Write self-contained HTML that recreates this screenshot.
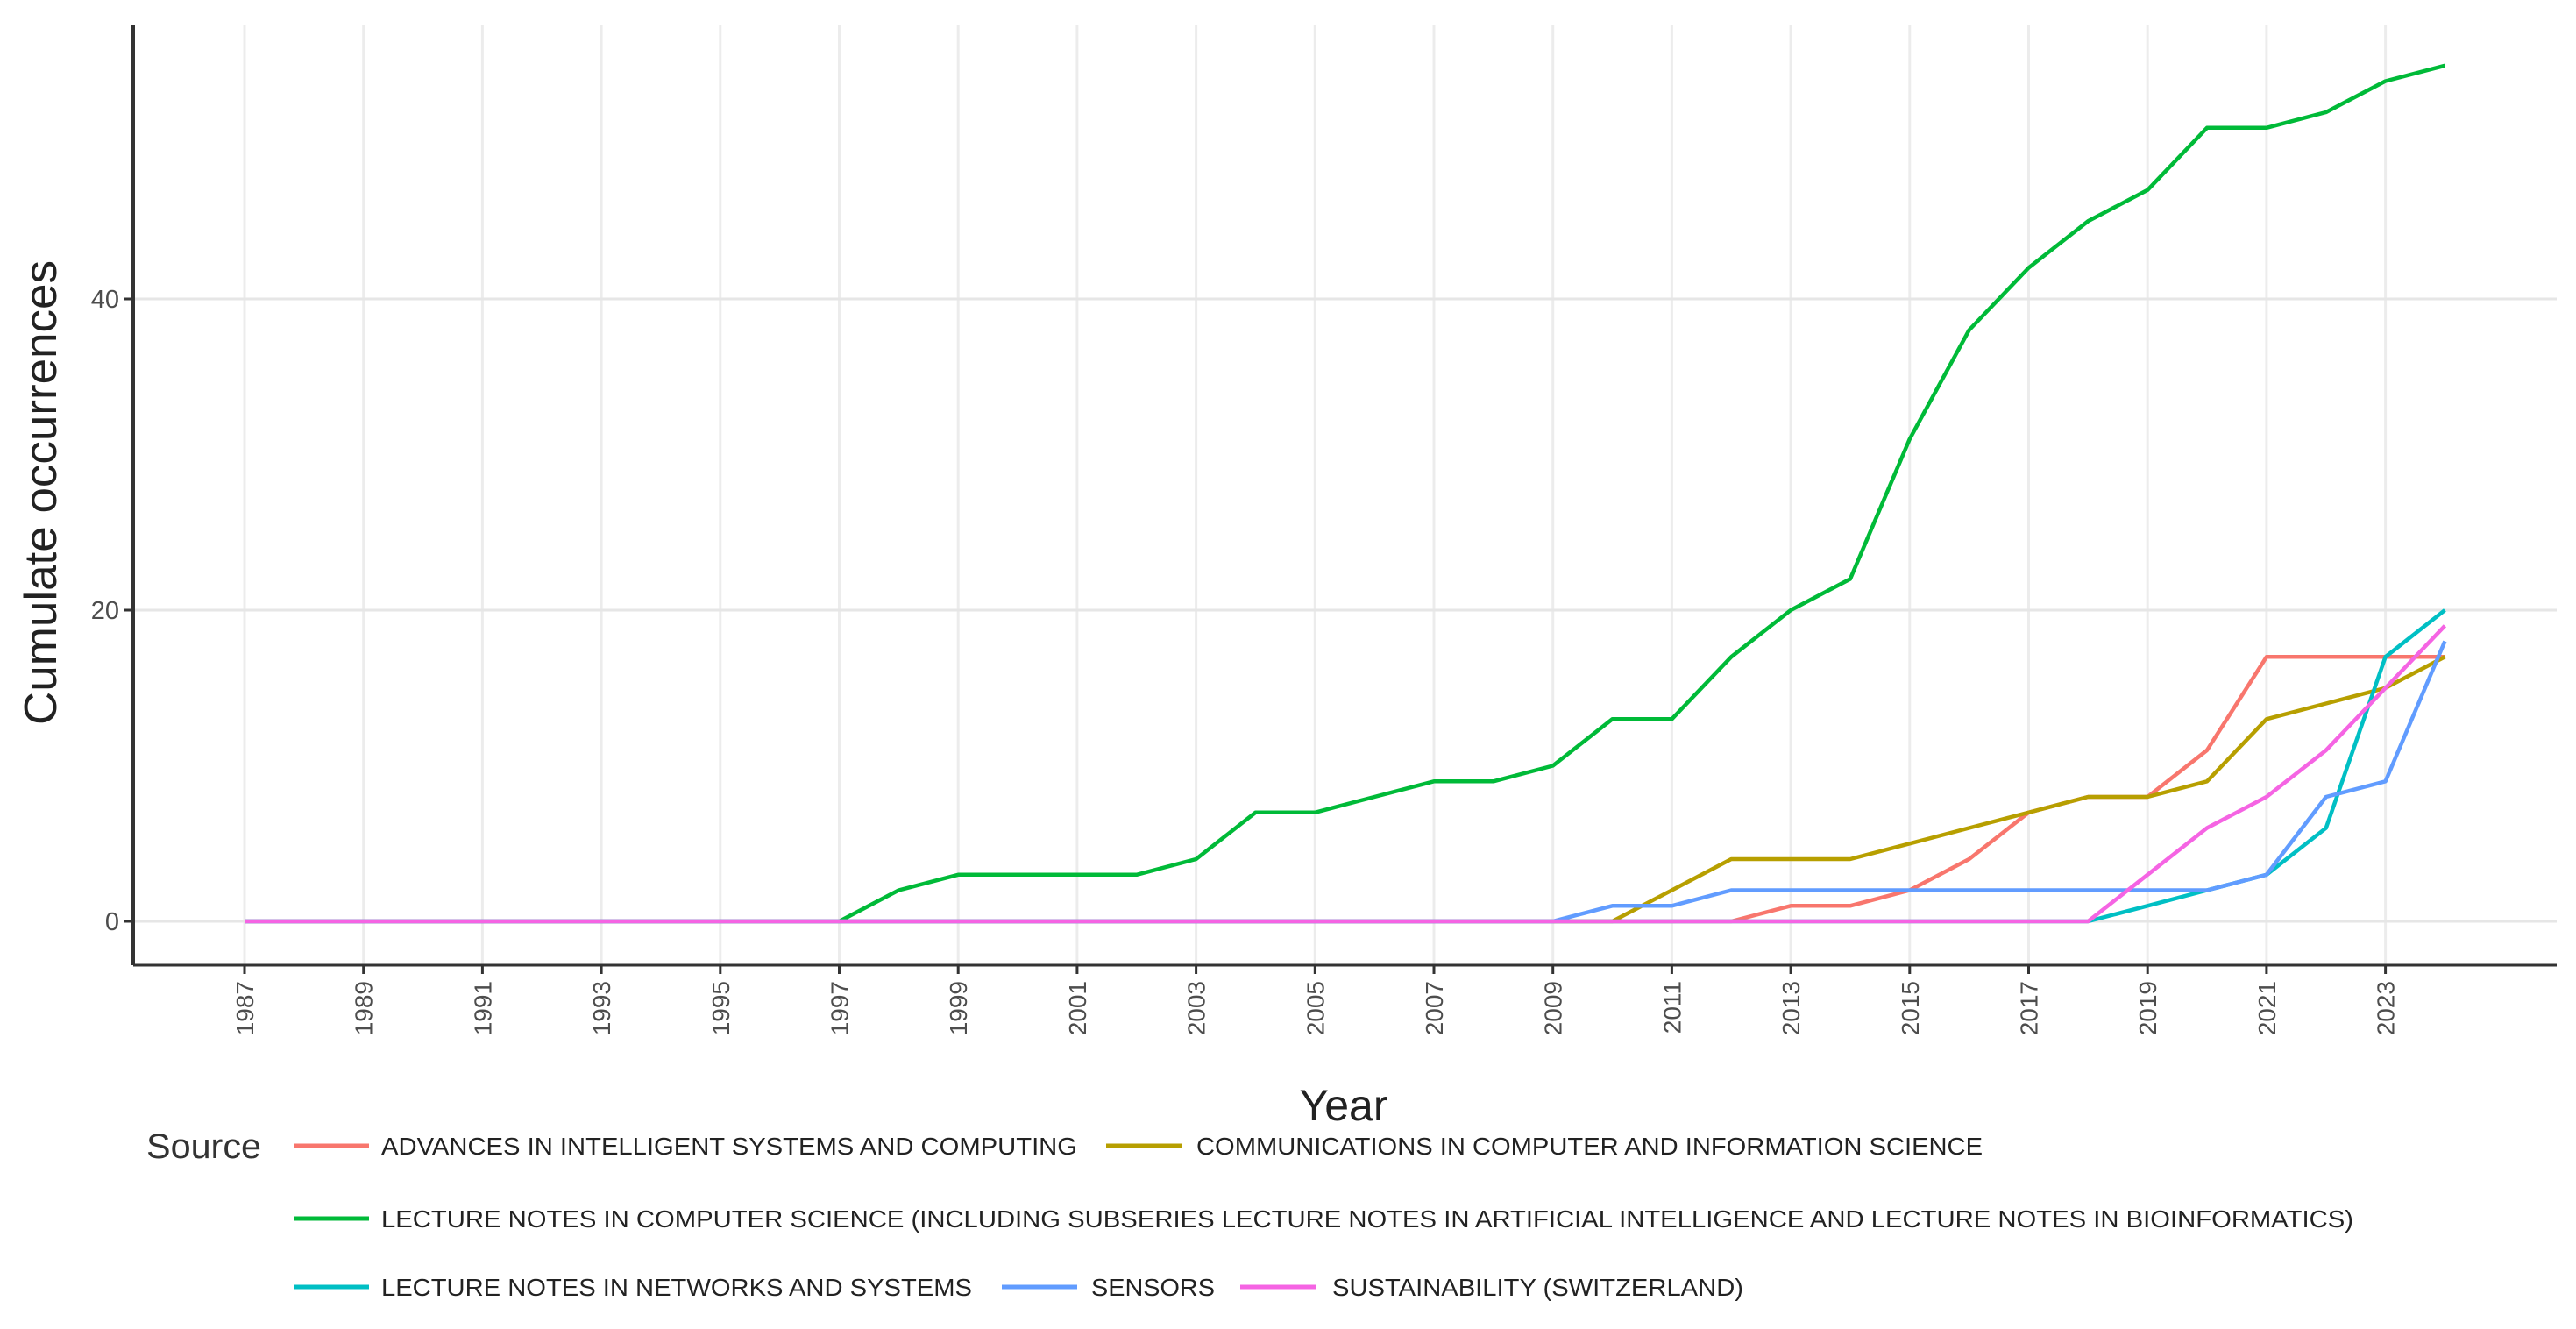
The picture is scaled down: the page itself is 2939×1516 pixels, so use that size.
<!DOCTYPE html>
<html><head><meta charset="utf-8">
<style>
html,body{margin:0;padding:0;background:#fff;}
svg{display:block;font-family:"Liberation Sans",sans-serif;}
</style></head>
<body>
<svg id="chart" width="2939" height="1516" viewBox="0 0 2939 1516" xmlns="http://www.w3.org/2000/svg">
<g id="grid"></g>
<g id="series"></g>
<g id="axes"></g>
<g id="legend"></g>
</svg>
<script>
const years = [1987,1988,1989,1990,1991,1992,1993,1994,1995,1996,1997,1998,1999,2000,2001,2002,2003,2004,2005,2006,2007,2008,2009,2010,2011,2012,2013,2014,2015,2016,2017,2018,2019,2020,2021,2022,2023,2024];
const seriesNames = ["ADVANCES IN INTELLIGENT SYSTEMS AND COMPUTING","COMMUNICATIONS IN COMPUTER AND INFORMATION SCIENCE","LECTURE NOTES IN COMPUTER SCIENCE (INCLUDING SUBSERIES LECTURE NOTES IN ARTIFICIAL INTELLIGENCE AND LECTURE NOTES IN BIOINFORMATICS)","LECTURE NOTES IN NETWORKS AND SYSTEMS","SENSORS","SUSTAINABILITY (SWITZERLAND)"];
const seriesColors = ["#F8766D","#B79F00","#00BA38","#00BFC4","#619CFF","#F564E3"];
const advances = [0,0,0,0,0,0,0,0,0,0,0,0,0,0,0,0,0,0,0,0,0,0,0,0,0,0,1,1,2,4,7,8,8,11,17,17,17,17];
const communications = [0,0,0,0,0,0,0,0,0,0,0,0,0,0,0,0,0,0,0,0,0,0,0,0,2,4,4,4,5,6,7,8,8,9,13,14,15,17];
const lncs = [0,0,0,0,0,0,0,0,0,0,0,2,3,3,3,3,4,7,7,8,9,9,10,13,13,17,20,22,31,38,42,45,47,51,51,52,54,55];
const lnns = [0,0,0,0,0,0,0,0,0,0,0,0,0,0,0,0,0,0,0,0,0,0,0,0,0,0,0,0,0,0,0,0,1,2,3,6,17,20];
const sensors = [0,0,0,0,0,0,0,0,0,0,0,0,0,0,0,0,0,0,0,0,0,0,0,1,1,2,2,2,2,2,2,2,2,2,3,8,9,18];
const sustainability = [0,0,0,0,0,0,0,0,0,0,0,0,0,0,0,0,0,0,0,0,0,0,0,0,0,0,0,0,0,0,0,0,3,6,8,11,15,19];
const yTicks = [0,20,40];
const xTicks = [1987,1989,1991,1993,1995,1997,1999,2001,2003,2005,2007,2009,2011,2013,2015,2017,2019,2021,2023];

const NS = "http://www.w3.org/2000/svg";
const X0 = 279, XPY = 67.85, Y0 = 1051, YPU = 17.75;
const PL = 152, PR = 2917, PT = 29, PB = 1101;
function xs(y){return X0 + (y-1987)*XPY;}
function ys(v){return Y0 - v*YPU;}
function mk(tag, attrs, parent){const e=document.createElementNS(NS,tag);for(const k in attrs)e.setAttribute(k,attrs[k]);parent.appendChild(e);return e;}

const grid = document.getElementById('grid');
const axes = document.getElementById('axes');
const seriesG = document.getElementById('series');
const legend = document.getElementById('legend');

xTicks.forEach(function(yr){
  const l = mk('line',{x1:xs(yr),x2:xs(yr),y1:PT,y2:PB,stroke:'#ececec','stroke-width':3},grid);
  
  
});
yTicks.forEach(function(v){
  const l = mk('line',{x1:PL,x2:PR,y1:ys(v),y2:ys(v),stroke:'#e6e6e6','stroke-width':3},grid);
  
  
});

const allSeries = [advances, communications, lncs, lnns, sensors, sustainability];
const drawOrder = [2,0,1,3,4,5];
drawOrder.forEach(function(i){
  const pts = years.map(function(yr,j){return xs(yr).toFixed(1)+','+ys(allSeries[i][j]).toFixed(1);}).join(' ');
  const p = mk('polyline',{points:pts,fill:'none',stroke:seriesColors[i],'stroke-width':4.5,'stroke-linejoin':'round'},seriesG);
  
  
});

const ya = mk('line',{x1:PL,x2:PL,y1:PT,y2:PB,stroke:'#333','stroke-width':4},axes);


const xa = mk('line',{x1:PL,x2:PR,y1:PB,y2:PB,stroke:'#333','stroke-width':3},axes);



yTicks.forEach(function(v){
  const t = mk('line',{x1:PL-10,x2:PL,y1:ys(v),y2:ys(v),stroke:'#333','stroke-width':3},axes);
  
  
  const tx = mk('text',{x:PL-16,y:ys(v)+10,'text-anchor':'end','font-size':29,fill:'#4d4d4d'},axes);
  tx.textContent = v;
  
  
});
xTicks.forEach(function(yr){
  const t = mk('line',{x1:xs(yr),x2:xs(yr),y1:PB,y2:PB+10,stroke:'#333','stroke-width':3},axes);
  
  
  const tx = mk('text',{x:0,y:0,'text-anchor':'end','font-size':28,fill:'#4d4d4d',transform:'translate('+(xs(yr)+10)+','+(PB+18)+') rotate(-90)'},axes);
  tx.textContent = yr;
  
  
});
const xt = mk('text',{x:1533,y:1278,'text-anchor':'middle','font-size':50,fill:'#222'},axes);
xt.textContent='Year';


const yt = mk('text',{x:0,y:0,'text-anchor':'middle','font-size':52,fill:'#222',textLength:530,lengthAdjust:'spacingAndGlyphs',transform:'translate(64,562) rotate(-90)'},axes);
yt.textContent='Cumulate occurrences';



const st = mk('text',{x:167,y:1321,'font-size':40,fill:'#333',textLength:131,lengthAdjust:'spacingAndGlyphs'},legend);
st.textContent='Source';


const legPos = [[335,1307,435,794],[1262,1307,1365,897],[335,1390,435,2250],[335,1468,435,674],[1143,1468,1245,141],[1415,1468,1520,469]];
legPos.forEach(function(p,i){
  const l = mk('line',{x1:p[0],x2:p[0]+86,y1:p[1],y2:p[1],stroke:seriesColors[i],'stroke-width':5},legend);
  
  
  const t = mk('text',{x:p[2],y:p[1]+10,'font-size':28,fill:'#222',textLength:p[3],lengthAdjust:'spacingAndGlyphs'},legend);
  t.textContent = seriesNames[i];
  
  
});
</script>
</body></html>
